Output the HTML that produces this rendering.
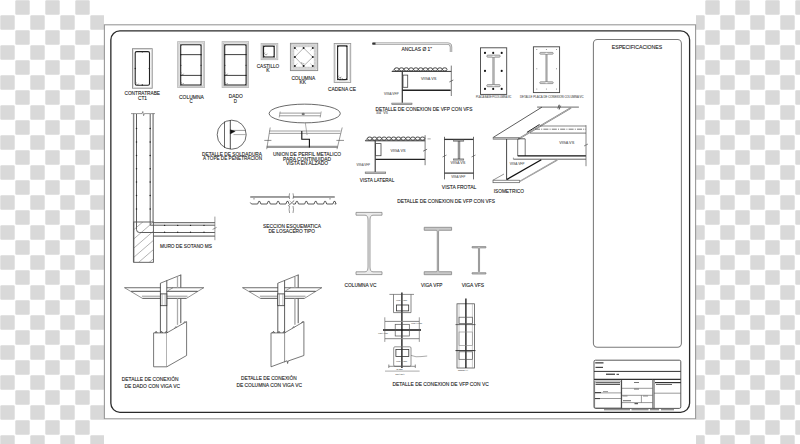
<!DOCTYPE html>
<html><head><meta charset="utf-8">
<style>
html,body{margin:0;padding:0;background:#fff;}
svg{display:block;}
text{font-family:"Liberation Sans",sans-serif;fill:#222;stroke:#222;stroke-width:0.1px;}
</style></head>
<body>
<svg width="800" height="444" viewBox="0 0 800 444">
<defs>
<pattern id="chk" x="0" y="0" width="30" height="30" patternUnits="userSpaceOnUse">
<rect x="0" y="0" width="30" height="30" fill="#fff"/>
<rect x="15.3" y="0.3" width="14.4" height="14.4" rx="1.2" fill="#d9d9d9"/>
<rect x="0.3" y="15.3" width="14.4" height="14.4" rx="1.2" fill="#d9d9d9"/>
</pattern>
</defs>
<rect x="0" y="0" width="800" height="444" fill="url(#chk)"/>
<rect x="104" y="0" width="592" height="444" fill="#fff"/>
<rect x="104.4" y="24.8" width="591.2" height="394" rx="0" fill="none" stroke="#999" stroke-width="1.1"/>
<rect x="110.85" y="30.85" width="578.75" height="381.45" rx="9" fill="none" stroke="#2a2a2a" stroke-width="1.3"/>
<rect x="593.4" y="39.4" width="88" height="307.8" rx="4" fill="none" stroke="#7a7a7a" stroke-width="1.05"/>
<text x="611.8" y="49" font-size="5.5" textLength="50.4" lengthAdjust="spacingAndGlyphs">ESPECIFICACIONES</text>
<rect x="132.5" y="48.7" width="19.7" height="39.5" rx="0" fill="none" stroke="#888" stroke-width="0.9"/>
<rect x="133.5" y="49.7" width="17.7" height="37.5" rx="0" fill="none" stroke="#d0d0d0" stroke-width="0.6"/>
<rect x="135.2" y="51.6" width="14.300000000000011" height="33.699999999999996" rx="1.5" fill="none" stroke="#222" stroke-width="1.1"/>
<circle cx="142.3" cy="51.8" r="0.75" fill="#222"/>
<circle cx="135.3" cy="68.5" r="0.75" fill="#222"/>
<circle cx="149.4" cy="68.5" r="0.75" fill="#222"/>
<circle cx="142.3" cy="85.1" r="0.75" fill="#222"/>
<path d="M136.5 82.5 a1.3 1.3 0 1 0 2.2 1.1" fill="none" stroke="#666" stroke-width="0.55" />
<text x="124.5" y="95.2" font-size="4.6" textLength="35.5" lengthAdjust="spacingAndGlyphs">CONTRATRABE</text>
<text x="138" y="100.3" font-size="4.6" textLength="9" lengthAdjust="spacingAndGlyphs">CT1</text>
<rect x="178.29999999999998" y="42.300000000000004" width="25.600000000000012" height="44.5" rx="0" fill="none" stroke="#b4b4b4" stroke-width="2.2"/>
<rect x="178.29999999999998" y="42.300000000000004" width="25.600000000000012" height="44.5" rx="0" fill="none" stroke="#e0e0e0" stroke-width="0.8"/>
<rect x="180.7" y="44.8" width="20.400000000000006" height="40.2" rx="1.2" fill="none" stroke="#222" stroke-width="1.1"/>
<line x1="180.7" y1="54.65" x2="201.1" y2="54.65" stroke="#2a2a2a" stroke-width="0.9"/>
<line x1="180.7" y1="75.4" x2="201.1" y2="75.4" stroke="#2a2a2a" stroke-width="0.9"/>
<circle cx="180.8" cy="54.65" r="0.7" fill="#222"/>
<circle cx="201" cy="54.65" r="0.7" fill="#222"/>
<circle cx="180.8" cy="85" r="0.7" fill="#222"/>
<circle cx="201" cy="85" r="0.7" fill="#222"/>
<circle cx="180.8" cy="44.9" r="0.7" fill="#222"/>
<circle cx="201" cy="44.9" r="0.7" fill="#222"/>
<circle cx="180.8" cy="75.4" r="0.7" fill="#222"/>
<circle cx="201" cy="75.4" r="0.7" fill="#222"/>
<circle cx="180.9" cy="65.2" r="0.55" fill="#222"/>
<circle cx="201" cy="65.2" r="0.55" fill="#222"/>
<path d="M181.5 72.5 a1.3 1.3 0 1 0 2.2 1.1" fill="none" stroke="#666" stroke-width="0.55" />
<path d="M181.5 82 a1.3 1.3 0 1 0 2.2 1.1" fill="none" stroke="#666" stroke-width="0.55" />
<text x="179" y="98.6" font-size="4.6" textLength="24.8" lengthAdjust="spacingAndGlyphs">COLUMNA</text>
<text x="189.6" y="102.8" font-size="4.6" textLength="3.2" lengthAdjust="spacingAndGlyphs">C</text>
<rect x="222.79999999999998" y="42.300000000000004" width="25.100000000000012" height="44.5" rx="0" fill="none" stroke="#b4b4b4" stroke-width="2.2"/>
<rect x="222.79999999999998" y="42.300000000000004" width="25.100000000000012" height="44.5" rx="0" fill="none" stroke="#e0e0e0" stroke-width="0.8"/>
<rect x="224.7" y="44.8" width="21.400000000000006" height="40.2" rx="1.2" fill="none" stroke="#222" stroke-width="1.1"/>
<line x1="224.7" y1="54.6" x2="246.1" y2="54.6" stroke="#2a2a2a" stroke-width="0.9"/>
<line x1="224.7" y1="75.4" x2="246.1" y2="75.4" stroke="#2a2a2a" stroke-width="0.9"/>
<circle cx="224.8" cy="54.6" r="0.7" fill="#222"/>
<circle cx="246" cy="54.6" r="0.7" fill="#222"/>
<circle cx="224.8" cy="85" r="0.7" fill="#222"/>
<circle cx="246" cy="85" r="0.7" fill="#222"/>
<circle cx="224.8" cy="44.9" r="0.7" fill="#222"/>
<circle cx="246" cy="44.9" r="0.7" fill="#222"/>
<circle cx="224.8" cy="75.4" r="0.7" fill="#222"/>
<circle cx="246" cy="75.4" r="0.7" fill="#222"/>
<circle cx="224.9" cy="65.2" r="0.55" fill="#222"/>
<circle cx="246" cy="65.2" r="0.55" fill="#222"/>
<path d="M225.5 72.5 a1.3 1.3 0 1 0 2.2 1.1" fill="none" stroke="#666" stroke-width="0.55" />
<path d="M225.5 82 a1.3 1.3 0 1 0 2.2 1.1" fill="none" stroke="#666" stroke-width="0.55" />
<text x="228.8" y="98.4" font-size="4.6" textLength="14" lengthAdjust="spacingAndGlyphs">DADO</text>
<text x="233.8" y="102.8" font-size="4.6" textLength="3.2" lengthAdjust="spacingAndGlyphs">D</text>
<rect x="261.8" y="44.1" width="15.3" height="14.900000000000002" rx="0" fill="none" stroke="#b4b4b4" stroke-width="2.2"/>
<rect x="261.8" y="44.1" width="15.3" height="14.900000000000002" rx="0" fill="none" stroke="#e0e0e0" stroke-width="0.8"/>
<rect x="263.5" y="46.1" width="10.699999999999989" height="10.899999999999999" rx="1.5" fill="none" stroke="#222" stroke-width="1.2"/>
<circle cx="263.6" cy="46.2" r="0.8" fill="#222"/>
<circle cx="274.1" cy="46.2" r="0.8" fill="#222"/>
<circle cx="263.6" cy="56.9" r="0.8" fill="#222"/>
<circle cx="274.1" cy="56.9" r="0.8" fill="#222"/>
<path d="M265 52.5 a1.3 1.3 0 1 0 2.2 1.1" fill="none" stroke="#666" stroke-width="0.55" />
<text x="256.7" y="67.7" font-size="4.6" textLength="22.5" lengthAdjust="spacingAndGlyphs">CASTILLO</text>
<text x="266.2" y="71.5" font-size="4.6" textLength="3.4" lengthAdjust="spacingAndGlyphs">K</text>
<rect x="290.4" y="43.3" width="27.3" height="27.3" rx="0" fill="none" stroke="#888" stroke-width="0.9"/>
<rect x="291.5" y="44.4" width="25.1" height="25.1" rx="0" fill="none" stroke="#bbb" stroke-width="0.6"/>
<rect x="293.2" y="46.1" width="21.7" height="21.7" rx="0" fill="none" stroke="#d8d8d8" stroke-width="2.2"/>
<rect x="293.2" y="46.1" width="21.7" height="21.7" fill="none" stroke="#999" stroke-width="0.5" stroke-dasharray="0.6,0.9"/>
<path d="M303.6 48 L312.8 57 L303.6 66 L294.9 57 Z" fill="none" stroke="#b0b0b0" stroke-width="1.0" />
<path d="M294.9 48 L297.5 50.5 M312.8 48 L310.2 50.5 M294.9 66 L297.5 63.5 M312.8 66 L310.2 63.5" fill="none" stroke="#bbb" stroke-width="0.8" />
<circle cx="294.9" cy="47.9" r="1.0" fill="#1a1a1a"/>
<circle cx="303.6" cy="47.9" r="1.0" fill="#1a1a1a"/>
<circle cx="312.8" cy="47.9" r="1.0" fill="#1a1a1a"/>
<circle cx="294.9" cy="57" r="1.0" fill="#1a1a1a"/>
<circle cx="312.8" cy="57" r="1.0" fill="#1a1a1a"/>
<circle cx="294.9" cy="66" r="1.0" fill="#1a1a1a"/>
<circle cx="303.6" cy="66" r="1.0" fill="#1a1a1a"/>
<circle cx="312.8" cy="66" r="1.0" fill="#1a1a1a"/>
<path d="M302 62 a1.2 1.2 0 1 0 2 1" fill="none" stroke="#666" stroke-width="0.5" />
<text x="291.4" y="79.6" font-size="4.6" textLength="23.8" lengthAdjust="spacingAndGlyphs">COLUMNA</text>
<text x="299.5" y="84.4" font-size="4.6" textLength="6.5" lengthAdjust="spacingAndGlyphs">KK</text>
<rect x="334.2" y="43.5" width="16.5" height="38.9" rx="0" fill="none" stroke="#999" stroke-width="0.9"/>
<rect x="335.5" y="44.8" width="13.9" height="36.3" rx="0" fill="none" stroke="#d0d0d0" stroke-width="0.6"/>
<rect x="337.6" y="45.9" width="9.399999999999977" height="33.699999999999996" rx="1.5" fill="none" stroke="#222" stroke-width="1.1"/>
<circle cx="337.8" cy="46.2" r="0.85" fill="#222"/>
<circle cx="346.8" cy="46.2" r="0.85" fill="#222"/>
<circle cx="337.8" cy="79.3" r="0.85" fill="#222"/>
<circle cx="346.8" cy="79.3" r="0.85" fill="#222"/>
<path d="M339 75.5 a1.3 1.3 0 1 0 2.2 1.1" fill="none" stroke="#666" stroke-width="0.55" />
<path d="M340.5 77 a1.3 1.3 0 1 0 2.2 1.1" fill="none" stroke="#666" stroke-width="0.55" />
<text x="328" y="91" font-size="4.6" textLength="28" lengthAdjust="spacingAndGlyphs">CADENA CE</text>
<path d="M373 43.6 L447.5 43.6 Q451 43.6 451 47 L451 52" fill="none" stroke="#8a8a8a" stroke-width="2.4" />
<path d="M373 43.6 L447.5 43.6 Q451 43.6 451 47 L451 52" fill="none" stroke="#dcdcdc" stroke-width="1.1" />
<line x1="372.2" y1="43.6" x2="375.5" y2="43.6" stroke="#333" stroke-width="2.0"/>
<text x="401.6" y="51.3" font-size="4.8" textLength="30.4" lengthAdjust="spacingAndGlyphs">ANCLAS Ø 1"</text>
<ellipse cx="396.70" cy="69.4" rx="2.3" ry="1.6" fill="none" stroke="#2a2a2a" stroke-width="0.85"/>
<ellipse cx="401.50" cy="69.4" rx="2.3" ry="1.6" fill="none" stroke="#2a2a2a" stroke-width="0.85"/>
<ellipse cx="406.30" cy="69.4" rx="2.3" ry="1.6" fill="none" stroke="#2a2a2a" stroke-width="0.85"/>
<ellipse cx="411.10" cy="69.4" rx="2.3" ry="1.6" fill="none" stroke="#2a2a2a" stroke-width="0.85"/>
<ellipse cx="415.90" cy="69.4" rx="2.3" ry="1.6" fill="none" stroke="#2a2a2a" stroke-width="0.85"/>
<ellipse cx="420.70" cy="69.4" rx="2.3" ry="1.6" fill="none" stroke="#2a2a2a" stroke-width="0.85"/>
<ellipse cx="425.50" cy="69.4" rx="2.3" ry="1.6" fill="none" stroke="#2a2a2a" stroke-width="0.85"/>
<ellipse cx="430.30" cy="69.4" rx="2.3" ry="1.6" fill="none" stroke="#2a2a2a" stroke-width="0.85"/>
<ellipse cx="435.10" cy="69.4" rx="2.3" ry="1.6" fill="none" stroke="#2a2a2a" stroke-width="0.85"/>
<ellipse cx="439.90" cy="69.4" rx="2.3" ry="1.6" fill="none" stroke="#2a2a2a" stroke-width="0.85"/>
<ellipse cx="444.70" cy="69.4" rx="2.3" ry="1.6" fill="none" stroke="#2a2a2a" stroke-width="0.85"/>
<line x1="392.2" y1="71.60000000000001" x2="395.2" y2="68.2" stroke="#555" stroke-width="0.7"/>
<line x1="391.8" y1="71.4" x2="451.3" y2="71.4" stroke="#333" stroke-width="1"/>
<line x1="402.3" y1="71.8" x2="402.3" y2="102.8" stroke="#333" stroke-width="1.2"/>
<rect x="403" y="75.1" width="4.7" height="12.2" rx="0" fill="none" stroke="#444" stroke-width="0.8"/>
<line x1="402.3" y1="90.3" x2="450.7" y2="90.3" stroke="#222" stroke-width="1.4"/>
<line x1="451.3" y1="65.6" x2="451.3" y2="96" stroke="#444" stroke-width="0.7"/>
<line x1="449.3" y1="82" x2="453.3" y2="80" stroke="#444" stroke-width="0.7"/>
<rect x="391.8" y="103.1" width="20.2" height="1.5" rx="0" fill="#ccc" stroke="#666" stroke-width="0.6"/>
<text x="421" y="80.4" font-size="3.2" textLength="15.4" lengthAdjust="spacingAndGlyphs" style="fill:#555;stroke:#888;stroke-width:0.1px">VIGA VS</text>
<text x="384" y="95.3" font-size="3.2" textLength="14.6" lengthAdjust="spacingAndGlyphs" style="fill:#555;stroke:#888;stroke-width:0.1px">VIGA VFP</text>
<text x="375.5" y="111" font-size="4.8" textLength="97" lengthAdjust="spacingAndGlyphs">DETALLE DE CONEXION DE VFP CON VFS</text>
<text x="376" y="113.8" font-size="2.8" textLength="12" lengthAdjust="spacingAndGlyphs" style="fill:#555;stroke:#888;stroke-width:0.1px">3/4" VS</text>
<rect x="480.5" y="47.8" width="26.2" height="46.6" rx="0" fill="none" stroke="#444" stroke-width="0.9"/>
<rect x="492.9" y="56.15" width="1.2" height="29.5" fill="#ddd" stroke="#666" stroke-width="0.6"/>
<rect x="486.75" y="55.1" width="13.5" height="2.1" rx="1.05" fill="#ddd" stroke="#666" stroke-width="0.6"/>
<rect x="486.75" y="84.60000000000001" width="13.5" height="2.1" rx="1.05" fill="#ddd" stroke="#666" stroke-width="0.6"/>
<ellipse cx="493.5" cy="56.15" rx="1.3" ry="0.5" fill="#fff"/>
<ellipse cx="493.5" cy="85.65" rx="1.3" ry="0.5" fill="#fff"/>
<circle cx="485" cy="52.9" r="1.05" fill="#111"/>
<circle cx="493.2" cy="52.9" r="1.05" fill="#111"/>
<circle cx="501.7" cy="52.9" r="1.05" fill="#111"/>
<circle cx="485" cy="70.9" r="1.05" fill="#111"/>
<circle cx="501.7" cy="70.9" r="1.05" fill="#111"/>
<circle cx="485" cy="88.9" r="1.05" fill="#111"/>
<circle cx="493.2" cy="88.9" r="1.05" fill="#111"/>
<circle cx="501.7" cy="88.9" r="1.05" fill="#111"/>
<text x="476" y="97.5" font-size="2.6" textLength="35.4" lengthAdjust="spacingAndGlyphs" style="fill:#555;stroke:#888;stroke-width:0.1px">PLACA BASE P/COLUMNA VC</text>
<rect x="533.4" y="46.8" width="26.2" height="45.8" rx="0" fill="none" stroke="#444" stroke-width="0.9"/>
<rect x="545.95" y="53.3" width="1.1" height="29.399999999999995" fill="#ddd" stroke="#666" stroke-width="0.6"/>
<rect x="539.75" y="52.4" width="13.5" height="1.8" rx="0.9" fill="#ddd" stroke="#666" stroke-width="0.6"/>
<rect x="539.75" y="81.8" width="13.5" height="1.8" rx="0.9" fill="#ddd" stroke="#666" stroke-width="0.6"/>
<ellipse cx="546.5" cy="53.3" rx="1.3" ry="0.5" fill="#fff"/>
<ellipse cx="546.5" cy="82.69999999999999" rx="1.3" ry="0.5" fill="#fff"/>
<circle cx="536.8" cy="49.4" r="0.5" fill="#777"/>
<circle cx="546.4" cy="49.4" r="0.5" fill="#777"/>
<circle cx="556.5" cy="49.4" r="0.5" fill="#777"/>
<circle cx="536.8" cy="68.8" r="0.5" fill="#777"/>
<circle cx="556.5" cy="68.8" r="0.5" fill="#777"/>
<circle cx="536.8" cy="89" r="0.5" fill="#777"/>
<circle cx="546.4" cy="89" r="0.5" fill="#777"/>
<circle cx="556.5" cy="89" r="0.5" fill="#777"/>
<text x="519.9" y="97.9" font-size="2.6" textLength="63.7" lengthAdjust="spacingAndGlyphs" style="fill:#555;stroke:#888;stroke-width:0.1px">DETALLE PLACA DE CONEXION COLUMNA VC</text>
<ellipse cx="369.70" cy="138.6" rx="2.3" ry="1.6" fill="none" stroke="#2a2a2a" stroke-width="0.85"/>
<ellipse cx="374.50" cy="138.6" rx="2.3" ry="1.6" fill="none" stroke="#2a2a2a" stroke-width="0.85"/>
<ellipse cx="379.30" cy="138.6" rx="2.3" ry="1.6" fill="none" stroke="#2a2a2a" stroke-width="0.85"/>
<ellipse cx="384.10" cy="138.6" rx="2.3" ry="1.6" fill="none" stroke="#2a2a2a" stroke-width="0.85"/>
<ellipse cx="388.90" cy="138.6" rx="2.3" ry="1.6" fill="none" stroke="#2a2a2a" stroke-width="0.85"/>
<ellipse cx="393.70" cy="138.6" rx="2.3" ry="1.6" fill="none" stroke="#2a2a2a" stroke-width="0.85"/>
<ellipse cx="398.50" cy="138.6" rx="2.3" ry="1.6" fill="none" stroke="#2a2a2a" stroke-width="0.85"/>
<ellipse cx="403.30" cy="138.6" rx="2.3" ry="1.6" fill="none" stroke="#2a2a2a" stroke-width="0.85"/>
<ellipse cx="408.10" cy="138.6" rx="2.3" ry="1.6" fill="none" stroke="#2a2a2a" stroke-width="0.85"/>
<ellipse cx="412.90" cy="138.6" rx="2.3" ry="1.6" fill="none" stroke="#2a2a2a" stroke-width="0.85"/>
<ellipse cx="417.70" cy="138.6" rx="2.3" ry="1.6" fill="none" stroke="#2a2a2a" stroke-width="0.85"/>
<ellipse cx="422.50" cy="138.6" rx="2.3" ry="1.6" fill="none" stroke="#2a2a2a" stroke-width="0.85"/>
<line x1="365.2" y1="140.79999999999998" x2="368.2" y2="137.4" stroke="#555" stroke-width="0.7"/>
<line x1="365.2" y1="140.8" x2="425.1" y2="140.8" stroke="#333" stroke-width="1"/>
<line x1="375.2" y1="140.8" x2="375.2" y2="172.3" stroke="#333" stroke-width="1.1"/>
<rect x="375.6" y="143.6" width="5.4" height="12.1" rx="0" fill="none" stroke="#444" stroke-width="0.8"/>
<line x1="375.5" y1="159.4" x2="425.1" y2="159.4" stroke="#222" stroke-width="1.4"/>
<line x1="425.1" y1="135.2" x2="425.1" y2="165.2" stroke="#444" stroke-width="0.7"/>
<line x1="423.1" y1="151.2" x2="427.1" y2="149.2" stroke="#444" stroke-width="0.7"/>
<line x1="427.5" y1="138.9" x2="430.7" y2="138.9" stroke="#666" stroke-width="0.6"/>
<rect x="365.2" y="172" width="20.5" height="1.5" rx="0" fill="#ccc" stroke="#666" stroke-width="0.6"/>
<text x="390.5" y="151.5" font-size="3.2" textLength="15" lengthAdjust="spacingAndGlyphs" style="fill:#555;stroke:#888;stroke-width:0.1px">VIGA VS</text>
<text x="356.6" y="165.7" font-size="3.2" textLength="13.4" lengthAdjust="spacingAndGlyphs" style="fill:#555;stroke:#888;stroke-width:0.1px">VIGA VFP</text>
<text x="359.8" y="182.4" font-size="4.8" textLength="34.5" lengthAdjust="spacingAndGlyphs">VISTA LATERAL</text>
<line x1="444" y1="139.4" x2="473.2" y2="139.4" stroke="#333" stroke-width="1.3"/>
<line x1="444.5" y1="136.8" x2="444.5" y2="179.4" stroke="#444" stroke-width="0.8"/>
<line x1="473.5" y1="136.8" x2="473.5" y2="179.4" stroke="#444" stroke-width="0.8"/>
<rect x="453.5" y="140" width="10.3" height="1.2" rx="0" fill="#bbb" stroke="#555" stroke-width="0.5"/>
<rect x="458.1" y="141.2" width="1.8" height="17.7" rx="0" fill="#bbb" stroke="#444" stroke-width="0.5"/>
<rect x="453.5" y="158.9" width="10.3" height="1.2" rx="0" fill="#bbb" stroke="#555" stroke-width="0.5"/>
<line x1="444.5" y1="173.1" x2="473.5" y2="173.1" stroke="#333" stroke-width="1.2"/>
<line x1="442.5" y1="157" x2="446.5" y2="155" stroke="#444" stroke-width="0.6"/>
<line x1="471.5" y1="157" x2="475.5" y2="155" stroke="#444" stroke-width="0.6"/>
<text x="450.4" y="163.6" font-size="3.2" textLength="14.9" lengthAdjust="spacingAndGlyphs" style="fill:#555;stroke:#888;stroke-width:0.1px">VIGA VS</text>
<text x="451.2" y="177.8" font-size="3.2" textLength="14.1" lengthAdjust="spacingAndGlyphs" style="fill:#555;stroke:#888;stroke-width:0.1px">VIGA VFP</text>
<text x="441.8" y="188.9" font-size="4.8" textLength="34.5" lengthAdjust="spacingAndGlyphs">VISTA FROTAL</text>
<path d="M493.1 137.5 L542 107.1" fill="none" stroke="#333" stroke-width="0.8" />
<line x1="537.1" y1="107.1" x2="578.9" y2="107.1" stroke="#444" stroke-width="0.8"/>
<path d="M557.7 108.6 L559.2 104.8 L559.2 109.4 L560.7 105.6" fill="none" stroke="#444" stroke-width="0.7" />
<path d="M519 138.6 L571 107.9" fill="none" stroke="#666" stroke-width="1.6" />
<path d="M519 138.6 L571 107.9" fill="none" stroke="#fff" stroke-width="0.5" />
<rect x="493.1" y="137.6" width="26" height="1.6" rx="0" fill="#bbb" stroke="#666" stroke-width="0.6"/>
<line x1="539.5" y1="126" x2="586" y2="126" stroke="#555" stroke-width="0.7"/>
<line x1="535" y1="129.2" x2="586" y2="129.2" stroke="#555" stroke-width="0.8" stroke-dasharray="5,1.2,1,1.2"/>
<line x1="530" y1="133.1" x2="586" y2="133.1" stroke="#555" stroke-width="0.8"/>
<path d="M526.9 132.4 L539.5 124.5" fill="none" stroke="#222" stroke-width="1" />
<line x1="506.6" y1="139" x2="506.6" y2="179.6" stroke="#333" stroke-width="0.9"/>
<line x1="517.7" y1="139" x2="517.7" y2="155.9" stroke="#555" stroke-width="0.8"/>
<line x1="525.2" y1="139" x2="525.2" y2="155.9" stroke="#555" stroke-width="0.8"/>
<line x1="518" y1="138.8" x2="525.2" y2="138.8" stroke="#333" stroke-width="0.8"/>
<line x1="517.7" y1="155.9" x2="586" y2="155.9" stroke="#111" stroke-width="1.4"/>
<line x1="513.4" y1="159.2" x2="586" y2="159.2" stroke="#666" stroke-width="1"/>
<line x1="513.4" y1="157.6" x2="513.4" y2="159.2" stroke="#666" stroke-width="0.6"/>
<line x1="586" y1="125.2" x2="586" y2="166.2" stroke="#555" stroke-width="0.7"/>
<line x1="584" y1="146" x2="588" y2="144" stroke="#444" stroke-width="0.6"/>
<line x1="506.6" y1="179.6" x2="541.3" y2="159.8" stroke="#111" stroke-width="1.3"/>
<path d="M493 180.2 L504 174" fill="none" stroke="#666" stroke-width="0.7" />
<rect x="493" y="180.2" width="26.6" height="2.5" rx="0" fill="#fff" stroke="#555" stroke-width="0.7"/>
<path d="M519.6 181.5 L557.3 159.8" fill="none" stroke="#777" stroke-width="1.4" />
<path d="M519.6 181.5 L557.3 159.8" fill="none" stroke="#fff" stroke-width="0.4" />
<text x="559.2" y="143.8" font-size="3.2" textLength="15" lengthAdjust="spacingAndGlyphs" style="fill:#555;stroke:#888;stroke-width:0.1px">VIGA VS</text>
<text x="509.7" y="164.8" font-size="3.2" textLength="14.8" lengthAdjust="spacingAndGlyphs" style="fill:#555;stroke:#888;stroke-width:0.1px">VIGA VFP</text>
<text x="493.7" y="193" font-size="4.8" textLength="30.2" lengthAdjust="spacingAndGlyphs">ISOMETRICO</text>
<text x="397.2" y="203.2" font-size="4.8" textLength="97.8" lengthAdjust="spacingAndGlyphs">DETALLE DE CONEXION DE VFP CON VFS</text>
<line x1="133.6" y1="113.6" x2="133.6" y2="262.3" stroke="#888" stroke-width="1.4"/>
<line x1="153.1" y1="113.6" x2="153.1" y2="222.6" stroke="#888" stroke-width="1.4"/>
<path d="M136.5 114 L136.5 229.5 Q136.5 232.5 139.5 232.5 L214.9 232.5" fill="none" stroke="#333" stroke-width="0.8" />
<path d="M150.2 114 L150.2 225.2 L214.9 225.2" fill="none" stroke="#333" stroke-width="0.8" />
<circle cx="136.5" cy="128.4" r="0.75" fill="#222"/>
<circle cx="150.2" cy="128.4" r="0.75" fill="#222"/>
<circle cx="136.5" cy="142" r="0.75" fill="#222"/>
<circle cx="150.2" cy="142" r="0.75" fill="#222"/>
<circle cx="136.5" cy="155.5" r="0.75" fill="#222"/>
<circle cx="150.2" cy="155.5" r="0.75" fill="#222"/>
<circle cx="136.5" cy="168.8" r="0.75" fill="#222"/>
<circle cx="150.2" cy="168.8" r="0.75" fill="#222"/>
<circle cx="136.5" cy="182" r="0.75" fill="#222"/>
<circle cx="150.2" cy="182" r="0.75" fill="#222"/>
<circle cx="136.5" cy="195.5" r="0.75" fill="#222"/>
<circle cx="150.2" cy="195.5" r="0.75" fill="#222"/>
<circle cx="136.5" cy="209" r="0.75" fill="#222"/>
<circle cx="150.2" cy="209" r="0.75" fill="#222"/>
<circle cx="164.6" cy="225.4" r="0.7" fill="#222"/>
<circle cx="164.6" cy="232.3" r="0.7" fill="#222"/>
<circle cx="177.7" cy="225.4" r="0.7" fill="#222"/>
<circle cx="177.7" cy="232.3" r="0.7" fill="#222"/>
<circle cx="190.5" cy="225.4" r="0.7" fill="#222"/>
<circle cx="190.5" cy="232.3" r="0.7" fill="#222"/>
<circle cx="204" cy="225.4" r="0.7" fill="#222"/>
<circle cx="204" cy="232.3" r="0.7" fill="#222"/>
<path d="M131 113.6 L142 113.6 L142.8 111.5 L143.6 115.7 L144.4 113.6 L155 113.6" fill="none" stroke="#555" stroke-width="0.6" />
<line x1="153.4" y1="222.7" x2="214.9" y2="222.7" stroke="#777" stroke-width="1.2"/>
<line x1="153.4" y1="236.1" x2="214.9" y2="236.1" stroke="#777" stroke-width="1.2"/>
<line x1="214.9" y1="216.6" x2="214.9" y2="240.2" stroke="#555" stroke-width="0.6"/>
<line x1="212.6" y1="229.4" x2="216.6" y2="227.4" stroke="#555" stroke-width="0.6"/>
<clipPath id="ftc"><rect x="133.7" y="222" width="19.7" height="40.3"/></clipPath>
<rect x="133.7" y="222" width="19.7" height="40.3" rx="0" fill="none" stroke="#555" stroke-width="0.9"/>
<g clip-path="url(#ftc)">
<line x1="133.7" y1="211.4" x2="153.4" y2="194.4" stroke="#666" stroke-width="0.5"/>
<line x1="133.7" y1="220.6" x2="153.4" y2="203.6" stroke="#666" stroke-width="0.5"/>
<line x1="133.7" y1="229.8" x2="153.4" y2="212.8" stroke="#666" stroke-width="0.5"/>
<line x1="133.7" y1="239.0" x2="153.4" y2="222.0" stroke="#666" stroke-width="0.5"/>
<line x1="133.7" y1="248.2" x2="153.4" y2="231.2" stroke="#666" stroke-width="0.5"/>
<line x1="133.7" y1="257.4" x2="153.4" y2="240.4" stroke="#666" stroke-width="0.5"/>
<line x1="133.7" y1="266.6" x2="153.4" y2="249.6" stroke="#666" stroke-width="0.5"/>
<line x1="133.7" y1="275.8" x2="153.4" y2="258.8" stroke="#666" stroke-width="0.5"/>
<line x1="133.7" y1="285.0" x2="153.4" y2="268.0" stroke="#666" stroke-width="0.5"/>
<line x1="133.7" y1="294.2" x2="153.4" y2="277.2" stroke="#666" stroke-width="0.5"/>
<line x1="133.7" y1="303.4" x2="153.4" y2="286.4" stroke="#666" stroke-width="0.5"/>
</g>
<text x="160" y="247.8" font-size="4.6" textLength="52" lengthAdjust="spacingAndGlyphs">MURO DE SOTANO MS</text>
<circle cx="231.7" cy="134.7" r="14.5" fill="none" stroke="#444" stroke-width="0.8"/>
<line x1="224.5" y1="121.5" x2="224.5" y2="148" stroke="#333" stroke-width="0.75"/>
<line x1="230.3" y1="120.2" x2="230.3" y2="149.2" stroke="#222" stroke-width="0.8"/>
<line x1="230.3" y1="130.4" x2="245.8" y2="130.4" stroke="#555" stroke-width="0.6"/>
<line x1="233.5" y1="134.6" x2="246" y2="134.6" stroke="#888" stroke-width="0.7"/>
<path d="M230.3 129.8 L235.2 131.3 L230.3 133.9 Z" fill="#111" stroke="#111" stroke-width="0.4" />
<text x="202" y="156.1" font-size="4.6" textLength="60" lengthAdjust="spacingAndGlyphs">DETALLE DE SOLDADURA</text>
<text x="203" y="160.3" font-size="4.6" textLength="59" lengthAdjust="spacingAndGlyphs">A TOPE DE PENETRACION</text>
<ellipse cx="304.7" cy="113.5" rx="35.6" ry="9.35" fill="none" stroke="#444" stroke-width="0.8"/>
<line x1="279.6" y1="113.1" x2="320.6" y2="113.1" stroke="#555" stroke-width="0.6"/>
<line x1="279.6" y1="115.8" x2="320.6" y2="115.8" stroke="#555" stroke-width="0.6"/>
<line x1="279.2" y1="117.5" x2="280.2" y2="111.5" stroke="#555" stroke-width="0.5"/>
<line x1="320.2" y1="117.5" x2="321.2" y2="111.5" stroke="#555" stroke-width="0.5"/>
<ellipse cx="303.2" cy="114" rx="1.6" ry="1.3" fill="#777"/>
<line x1="305.3" y1="122.8" x2="307.1" y2="135.1" stroke="#777" stroke-width="0.6"/>
<line x1="269.3" y1="131" x2="340.5" y2="131" stroke="#888" stroke-width="0.8"/>
<line x1="269.3" y1="133.4" x2="340.5" y2="133.4" stroke="#888" stroke-width="0.8"/>
<line x1="266.7" y1="146.9" x2="337.6" y2="146.9" stroke="#999" stroke-width="2.2"/>
<line x1="270.2" y1="127.5" x2="266.7" y2="149.2" stroke="#555" stroke-width="0.6"/>
<line x1="342.2" y1="127.5" x2="337" y2="149.2" stroke="#555" stroke-width="0.6"/>
<line x1="264.3" y1="140.4" x2="271.4" y2="140.4" stroke="#444" stroke-width="0.6"/>
<line x1="336.4" y1="140.4" x2="344" y2="140.4" stroke="#444" stroke-width="0.6"/>
<path d="M301.8 131 L301.8 139.2 L309.4 139.2 L309.4 147.6" fill="none" stroke="#111" stroke-width="1.1" />
<text x="273" y="156.4" font-size="4.6" textLength="68" lengthAdjust="spacingAndGlyphs">UNION DE PERFIL METALICO</text>
<text x="283" y="160.7" font-size="4.6" textLength="48" lengthAdjust="spacingAndGlyphs">PARA CONTINUIDAD</text>
<text x="286" y="165" font-size="4.6" textLength="42" lengthAdjust="spacingAndGlyphs">VISTA EN ALZADO</text>
<line x1="250.3" y1="197.1" x2="334.7" y2="197.1" stroke="#8a8a8a" stroke-width="2.0"/>
<line x1="250.3" y1="197.1" x2="334.7" y2="197.1" stroke="#ddd" stroke-width="0.5"/>
<path d="M250.3 202.5 L251.5 204 L257.7 204 L258.7 201.4 L259.9 201.4 L260.9 204 L267.1 204 L268.1 201.4 L269.3 201.4 L270.3 204 L276.5 204 L277.5 201.4 L278.7 201.4 L279.7 204 L285.9 204 L286.9 201.4 L288.1 201.4 L289.1 204 L295.3 204 L296.3 201.4 L297.5 201.4 L298.5 204 L304.7 204 L305.7 201.4 L306.9 201.4 L307.9 204 L314.1 204 L315.1 201.4 L316.3 201.4 L317.3 204 L323.5 204 L324.5 201.4 L325.7 201.4 L326.7 204 L332.9 204 L333.9 201.4 L335.1 201.4 L336.1 204 L334.7 204" fill="none" stroke="#333" stroke-width="0.8" />
<circle cx="254" cy="198.8" r="0.6" fill="#444"/>
<circle cx="330" cy="198.8" r="0.6" fill="#444"/>
<rect x="289.4" y="192" width="3.6" height="22" fill="#fff"/>
<path d="M289.6 193.3 Q288.6 196 289.6 199 M293 193.3 Q294 196 293 199 M289.6 206 Q288.6 209.5 289.6 213 M293 206 Q294 209.5 293 213" fill="none" stroke="#555" stroke-width="0.6" />
<line x1="288.2" y1="206" x2="294.2" y2="200.5" stroke="#333" stroke-width="0.7"/>
<line x1="289.4" y1="200.5" x2="293.4" y2="204.5" stroke="#777" stroke-width="0.5"/>
<text x="263" y="228" font-size="4.6" textLength="58" lengthAdjust="spacingAndGlyphs">SECCION ESQUEMATICA</text>
<text x="268.4" y="233.4" font-size="4.6" textLength="46.6" lengthAdjust="spacingAndGlyphs">DE LOSACERO TIPO</text>
<path d="M356.0 212.4 L382.0 212.4 L382.0 215.20000000000002 L373.0 215.20000000000002 Q370.0 215.20000000000002 370.0 220.00000000000003 L370.0 267.0 Q370.0 271.8 373.0 271.8 L382.0 271.8 L382.0 274.6 L356.0 274.6 L356.0 271.8 L365.0 271.8 Q368.0 271.8 368.0 267.0 L368.0 220.00000000000003 Q368.0 215.20000000000002 365.0 215.20000000000002 L356.0 215.20000000000002 Z" fill="#eaeaea" stroke="#808080" stroke-width="0.75" />
<text x="344.5" y="286.5" font-size="4.6" textLength="32" lengthAdjust="spacingAndGlyphs">COLUMNA VC</text>
<path d="M424.2 227.3 L451.59999999999997 227.3 L451.59999999999997 230.3 L439.54999999999995 230.3 Q438.54999999999995 230.3 438.54999999999995 231.9 L438.54999999999995 270.09999999999997 Q438.54999999999995 271.7 439.54999999999995 271.7 L451.59999999999997 271.7 L451.59999999999997 274.7 L424.2 274.7 L424.2 271.7 L436.25 271.7 Q437.25 271.7 437.25 270.09999999999997 L437.25 231.9 Q437.25 230.3 436.25 230.3 L424.2 230.3 Z" fill="#c8c8c8" stroke="#808080" stroke-width="0.75" />
<text x="421" y="286.5" font-size="4.6" textLength="21.4" lengthAdjust="spacingAndGlyphs">VIGA VFP</text>
<path d="M472.1 246.6 L485.9 246.6 L485.9 247.9 L480.15000000000003 247.9 Q479.55 247.9 479.55 248.86 L479.55 271.74 Q479.55 272.7 480.15000000000003 272.7 L485.9 272.7 L485.9 274 L472.1 274 L472.1 272.7 L477.84999999999997 272.7 Q478.45 272.7 478.45 271.74 L478.45 248.86 Q478.45 247.9 477.84999999999997 247.9 L472.1 247.9 Z" fill="#c8c8c8" stroke="#808080" stroke-width="0.75" />
<text x="461.7" y="286.5" font-size="4.6" textLength="22.3" lengthAdjust="spacingAndGlyphs">VIGA VFS</text>
<line x1="124.5" y1="287.7" x2="203.8" y2="287.7" stroke="#777" stroke-width="1.3"/>
<line x1="124.5" y1="287.7" x2="203.8" y2="287.7" stroke="#ddd" stroke-width="0.3"/>
<path d="M124.5 287.7 L142.5 298.4 L186.4 298.4 L203.8 287.7" fill="none" stroke="#666" stroke-width="0.7" />
<line x1="131.2" y1="291.3" x2="197.6" y2="291.3" stroke="#222" stroke-width="0.8"/>
<line x1="141.9" y1="296.2" x2="187.5" y2="296.2" stroke="#888" stroke-width="0.9"/>
<line x1="142.5" y1="298.4" x2="186.4" y2="298.4" stroke="#555" stroke-width="0.7"/>
<rect x="160.4" y="283" width="6.400000000000006" height="49.89999999999998" fill="#fff"/>
<line x1="160.4" y1="283.2" x2="160.4" y2="332.9" stroke="#333" stroke-width="0.8"/>
<line x1="166.8" y1="280.4" x2="166.8" y2="332.9" stroke="#333" stroke-width="0.8"/>
<path d="M160.4 283.2 L181.20000000000002 274.8" fill="none" stroke="#444" stroke-width="0.7" />
<line x1="177.5" y1="277" x2="177.5" y2="287.7" stroke="#888" stroke-width="1.2"/>
<line x1="177.5" y1="277" x2="177.5" y2="287.7" stroke="#fff" stroke-width="0.3"/>
<line x1="177.5" y1="298.4" x2="177.5" y2="324.8" stroke="#888" stroke-width="1.2"/>
<line x1="177.5" y1="298.4" x2="177.5" y2="324.8" stroke="#fff" stroke-width="0.3"/>
<line x1="180.8" y1="274.8" x2="180.8" y2="287.7" stroke="#555" stroke-width="1.0"/>
<line x1="180.8" y1="298.4" x2="180.8" y2="323.2" stroke="#555" stroke-width="1.0"/>
<line x1="168.0" y1="290.6" x2="173.0" y2="287.7" stroke="#555" stroke-width="0.6"/>
<rect x="160.4" y="293.9" width="6.400000000000006" height="11.8" rx="0" fill="#fff" stroke="#333" stroke-width="0.8"/>
<line x1="162.1" y1="293.9" x2="162.1" y2="305.7" stroke="#777" stroke-width="0.5"/>
<line x1="165.10000000000002" y1="293.9" x2="165.10000000000002" y2="305.7" stroke="#777" stroke-width="0.5"/>
<path d="M153.6 332.9 L166.8 332.9 L166.8 366.8 L153.6 366.8 Z" fill="#fff" stroke="#555" stroke-width="0.8" />
<path d="M166.8 332.9 L186.60000000000002 321.6 L186.60000000000002 355.5 L166.8 366.8" fill="#fff" stroke="#555" stroke-width="0.8" />
<path d="M154.9 332.9 L156.1 331.3 L157.29999999999998 332.9" fill="#888" stroke="#333" stroke-width="0.6" />
<path d="M160.4 332.9 L161.6 331.3 L162.79999999999998 332.9" fill="#888" stroke="#333" stroke-width="0.6" />
<path d="M165.00000000000003 332.9 L166.20000000000002 331.3 L167.4 332.9" fill="#888" stroke="#333" stroke-width="0.6" />
<path d="M174.71 328.215 L175.71 326.615 L176.71 327.115" fill="none" stroke="#333" stroke-width="0.5" />
<path d="M183.62 323.12999999999994 L184.62 321.53 L185.62 322.03" fill="none" stroke="#333" stroke-width="0.5" />
<text x="121.8" y="381" font-size="4.6" textLength="56.7" lengthAdjust="spacingAndGlyphs">DETALLE DE CONEXIÓN</text>
<text x="124.5" y="388" font-size="4.6" textLength="55.5" lengthAdjust="spacingAndGlyphs">DE DADO CON VIGA VC</text>
<line x1="242.5" y1="287.7" x2="321.8" y2="287.7" stroke="#777" stroke-width="1.3"/>
<line x1="242.5" y1="287.7" x2="321.8" y2="287.7" stroke="#ddd" stroke-width="0.3"/>
<path d="M242.5 287.7 L260.5 298.4 L304.4 298.4 L321.8 287.7" fill="none" stroke="#666" stroke-width="0.7" />
<line x1="249.2" y1="291.3" x2="315.6" y2="291.3" stroke="#222" stroke-width="0.8"/>
<line x1="259.9" y1="296.2" x2="305.5" y2="296.2" stroke="#888" stroke-width="0.9"/>
<line x1="260.5" y1="298.4" x2="304.4" y2="298.4" stroke="#555" stroke-width="0.7"/>
<rect x="277.8" y="283" width="6.800000000000011" height="49.89999999999998" fill="#fff"/>
<line x1="277.8" y1="283.2" x2="277.8" y2="332.9" stroke="#333" stroke-width="0.8"/>
<line x1="284.6" y1="280.4" x2="284.6" y2="332.9" stroke="#333" stroke-width="0.8"/>
<path d="M277.8 283.2 L298.6 274.8" fill="none" stroke="#444" stroke-width="0.7" />
<line x1="294.90000000000003" y1="277" x2="294.90000000000003" y2="287.7" stroke="#888" stroke-width="1.2"/>
<line x1="294.90000000000003" y1="277" x2="294.90000000000003" y2="287.7" stroke="#fff" stroke-width="0.3"/>
<line x1="294.90000000000003" y1="298.4" x2="294.90000000000003" y2="324.8" stroke="#888" stroke-width="1.2"/>
<line x1="294.90000000000003" y1="298.4" x2="294.90000000000003" y2="324.8" stroke="#fff" stroke-width="0.3"/>
<line x1="298.2" y1="274.8" x2="298.2" y2="287.7" stroke="#555" stroke-width="1.0"/>
<line x1="298.2" y1="298.4" x2="298.2" y2="323.2" stroke="#555" stroke-width="1.0"/>
<line x1="285.8" y1="290.6" x2="290.8" y2="287.7" stroke="#555" stroke-width="0.6"/>
<rect x="277.8" y="293.9" width="6.800000000000011" height="11.8" rx="0" fill="#fff" stroke="#333" stroke-width="0.8"/>
<line x1="279.5" y1="293.9" x2="279.5" y2="305.7" stroke="#777" stroke-width="0.5"/>
<line x1="282.90000000000003" y1="293.9" x2="282.90000000000003" y2="305.7" stroke="#777" stroke-width="0.5"/>
<path d="M271.0 332.9 L284.6 332.9 L303.90000000000003 321.6 L303.90000000000003 355.5 L288.1 361 L287.6 363.5 L287.1 360.8 L271.0 366.8 Z" fill="#fff" stroke="#555" stroke-width="0.8" />
<line x1="284.6" y1="332.9" x2="284.6" y2="362.3" stroke="#666" stroke-width="0.7"/>
<path d="M272.3 332.9 L273.5 331.3 L274.7 332.9" fill="#888" stroke="#333" stroke-width="0.6" />
<path d="M277.8 332.9 L279.0 331.3 L280.2 332.9" fill="#888" stroke="#333" stroke-width="0.6" />
<path d="M282.8 332.9 L284.0 331.3 L285.2 332.9" fill="#888" stroke="#333" stroke-width="0.6" />
<path d="M292.51000000000005 328.215 L293.51000000000005 326.615 L294.51000000000005 327.115" fill="none" stroke="#333" stroke-width="0.5" />
<path d="M301.42 323.12999999999994 L302.42 321.53 L303.42 322.03" fill="none" stroke="#333" stroke-width="0.5" />
<text x="241" y="380" font-size="4.6" textLength="55.6" lengthAdjust="spacingAndGlyphs">DETALLE DE CONEXIÓN</text>
<text x="236.4" y="386.6" font-size="4.6" textLength="65.6" lengthAdjust="spacingAndGlyphs">DE COLUMNA CON VIGA VC</text>
<line x1="401.9" y1="292.5" x2="401.9" y2="368" stroke="#111" stroke-width="1.3"/>
<line x1="389.4" y1="294.4" x2="414" y2="294.4" stroke="#444" stroke-width="0.6"/>
<path d="M393.5 294.4 L393.5 312.6 L411 312.6 L411 294.4" fill="none" stroke="#555" stroke-width="0.7" />
<rect x="396.4" y="305" width="12.3" height="5.9" rx="0" fill="none" stroke="#333" stroke-width="0.8"/>
<text x="396" y="300.5" font-size="2.4" textLength="11" lengthAdjust="spacingAndGlyphs" style="fill:#555;stroke:#888;stroke-width:0.1px">VIGA VFP</text>
<line x1="383" y1="330" x2="421" y2="330" stroke="#111" stroke-width="1.3"/>
<line x1="385" y1="321.4" x2="419.2" y2="321.4" stroke="#888" stroke-width="1.0"/>
<line x1="385" y1="338.7" x2="419.2" y2="338.7" stroke="#888" stroke-width="1.0"/>
<line x1="384.8" y1="317.3" x2="384.8" y2="341.9" stroke="#555" stroke-width="0.6"/>
<line x1="419.3" y1="317.3" x2="419.3" y2="341.9" stroke="#555" stroke-width="0.6"/>
<rect x="395.2" y="324.3" width="14.1" height="11.7" rx="0" fill="none" stroke="#555" stroke-width="0.7"/>
<text x="411" y="323.5" font-size="2.4" textLength="11" lengthAdjust="spacingAndGlyphs" style="fill:#555;stroke:#888;stroke-width:0.1px">VIGA VFP</text>
<text x="378" y="333.5" font-size="2.4" textLength="10" lengthAdjust="spacingAndGlyphs" style="fill:#555;stroke:#888;stroke-width:0.1px">VIGA VFP</text>
<rect x="393.7" y="346.8" width="17.3" height="19.5" rx="1.2" fill="none" stroke="#777" stroke-width="0.8"/>
<rect x="395.9" y="349.5" width="12.9" height="7" rx="0" fill="none" stroke="#333" stroke-width="0.8"/>
<text x="396" y="362.3" font-size="2.4" textLength="11" lengthAdjust="spacingAndGlyphs" style="fill:#555;stroke:#888;stroke-width:0.1px">VIGA VFP</text>
<path d="M411 355.4 Q416 357.5 421 356.6 L427.2 356" fill="none" stroke="#555" stroke-width="0.5" />
<line x1="388.8" y1="366.3" x2="415.3" y2="366.3" stroke="#444" stroke-width="0.6"/>
<line x1="388.8" y1="364.5" x2="388.8" y2="368" stroke="#444" stroke-width="0.6"/>
<line x1="415.3" y1="364.5" x2="415.3" y2="368" stroke="#444" stroke-width="0.6"/>
<line x1="385" y1="371.1" x2="419.6" y2="371.1" stroke="#555" stroke-width="0.5"/>
<text x="396.5" y="370" font-size="2.2" textLength="6" lengthAdjust="spacingAndGlyphs" style="fill:#555;stroke:#888;stroke-width:0.1px">0.30</text>
<text x="395.5" y="375" font-size="2.2" textLength="9" lengthAdjust="spacingAndGlyphs" style="fill:#555;stroke:#888;stroke-width:0.1px">PLACA</text>
<rect x="457" y="303.8" width="17.4" height="64.2" rx="0" fill="none" stroke="#555" stroke-width="0.8"/>
<line x1="459" y1="303.8" x2="459" y2="368" stroke="#999" stroke-width="0.5"/>
<line x1="472.4" y1="303.8" x2="472.4" y2="368" stroke="#999" stroke-width="0.5"/>
<line x1="465.9" y1="298.5" x2="465.9" y2="368" stroke="#111" stroke-width="1.3"/>
<line x1="455.5" y1="324.6" x2="475.5" y2="324.6" stroke="#444" stroke-width="0.8"/>
<line x1="455.5" y1="350.6" x2="475.5" y2="350.6" stroke="#333" stroke-width="1.0"/>
<rect x="459" y="317.2" width="13.4" height="6.2" rx="0" fill="none" stroke="#555" stroke-width="0.7"/>
<rect x="459" y="351.8" width="13.4" height="7.5" rx="0" fill="none" stroke="#555" stroke-width="0.7"/>
<rect x="459" y="332" width="13.4" height="13.6" rx="0" fill="none" stroke="#888" stroke-width="0.6"/>
<text x="458" y="371" font-size="2.2" textLength="10" lengthAdjust="spacingAndGlyphs" style="fill:#555;stroke:#888;stroke-width:0.1px">CORTE A-A</text>
<text x="392.4" y="386" font-size="4.8" textLength="96.3" lengthAdjust="spacingAndGlyphs">DETALLE DE CONEXION DE VFP CON VC</text>
<rect x="594" y="360.2" width="86.8" height="48.2" rx="1.5" fill="none" stroke="#444" stroke-width="0.9"/>
<line x1="594" y1="371.4" x2="680.8" y2="371.4" stroke="#333" stroke-width="1"/>
<line x1="594" y1="379.3" x2="680.8" y2="379.3" stroke="#333" stroke-width="1.3"/>
<rect x="594.6" y="381" width="26.6" height="27" rx="1" fill="none" stroke="#555" stroke-width="0.6"/>
<line x1="621.6" y1="379.3" x2="621.6" y2="408.4" stroke="#333" stroke-width="0.9"/>
<line x1="652.6" y1="379.3" x2="652.6" y2="408.4" stroke="#555" stroke-width="0.7"/>
<line x1="654" y1="379.3" x2="654" y2="408.4" stroke="#333" stroke-width="0.9"/>
<line x1="594.6" y1="392.9" x2="621.2" y2="392.9" stroke="#555" stroke-width="0.6"/>
<line x1="594.6" y1="398.5" x2="621.2" y2="398.5" stroke="#555" stroke-width="0.6"/>
<line x1="621.6" y1="388.3" x2="652.6" y2="388.3" stroke="#555" stroke-width="0.6"/>
<line x1="621.6" y1="395.3" x2="652.6" y2="395.3" stroke="#555" stroke-width="0.6"/>
<line x1="621.6" y1="402.6" x2="652.6" y2="402.6" stroke="#555" stroke-width="0.6"/>
<line x1="641.4" y1="395.3" x2="641.4" y2="402.6" stroke="#555" stroke-width="0.6"/>
<line x1="654" y1="393.2" x2="680.8" y2="393.2" stroke="#555" stroke-width="0.6"/>
<rect x="595.2" y="362.2" width="8.3" height="1.3" fill="#444"/>
<rect x="595.5" y="366.8" width="7.5" height="1.2" fill="#444"/>
<rect x="606" y="373.6" width="9" height="1.3" fill="#444"/>
<rect x="616.5" y="373.8" width="2.5" height="1.1" fill="#444"/>
<rect x="595.5" y="382.2" width="24.5" height="1.1" fill="#444"/>
<rect x="595.5" y="384" width="24.5" height="1.0" fill="#555"/>
<rect x="595" y="392" width="6" height="1.1" fill="#444"/>
<rect x="603" y="391.3" width="5" height="0.8" fill="#777"/>
<rect x="595" y="398" width="5" height="1.1" fill="#444"/>
<rect x="634" y="382" width="5" height="0.9" fill="#666"/>
<rect x="634" y="388.6" width="5" height="0.9" fill="#666"/>
<rect x="622.5" y="395.6" width="5" height="0.8" fill="#777"/>
<rect x="643" y="395.6" width="5" height="0.8" fill="#777"/>
<rect x="623" y="400.3" width="8" height="0.9" fill="#555"/>
<rect x="634.5" y="403.1" width="3.5" height="1.1" fill="#444"/>
<rect x="655" y="382" width="26" height="1.2" fill="#333"/>
<rect x="656" y="384" width="16" height="0.9" fill="#555"/>
<rect x="604" y="409.2" width="26" height="1.1" fill="#777"/>
<rect x="631.5" y="409.2" width="17" height="1.1" fill="#777"/>
<rect x="650" y="409.2" width="9" height="1.1" fill="#777"/>
<rect x="661" y="409.2" width="13" height="1.1" fill="#777"/>
</svg>
</body></html>
